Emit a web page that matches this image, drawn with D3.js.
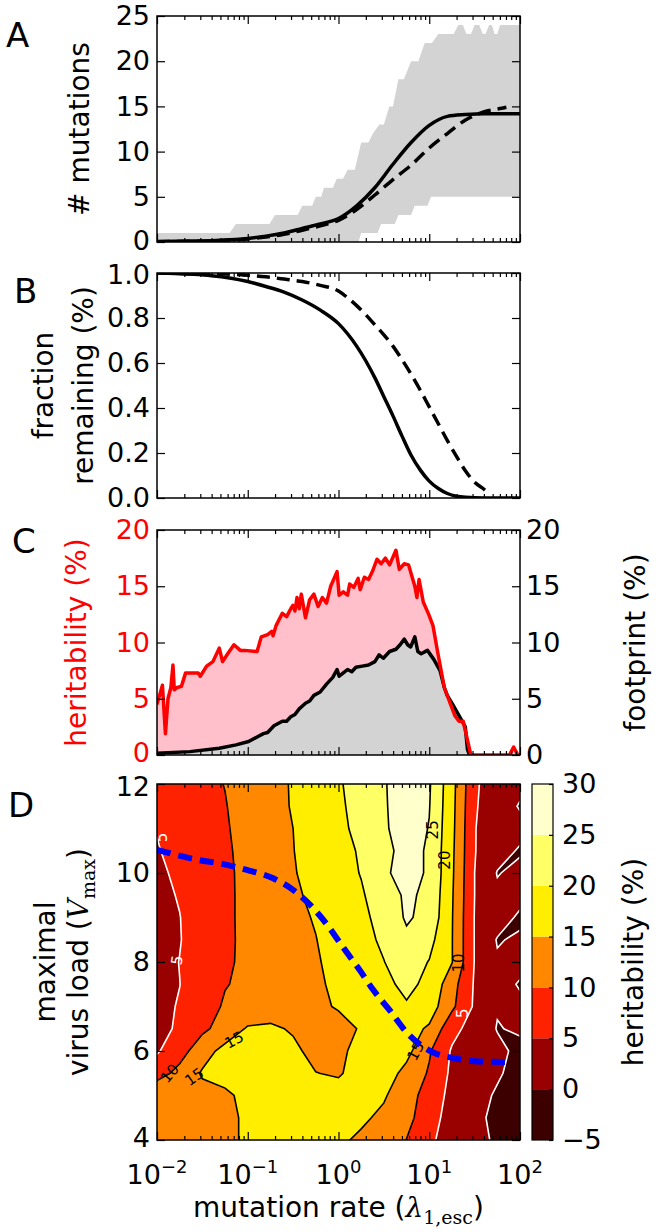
<!DOCTYPE html>
<html>
<head>
<meta charset="utf-8">
<script src="https://cdn.jsdelivr.net/npm/d3@7"></script>
<style>
html,body{margin:0;padding:0;background:#fff;}
svg{display:block;}
</style>
</head>
<body>
<svg id="chart" width="661" height="1232"></svg>
<script>
// ================= DATA =================
// Panel A: number of mutations (log10 of mutation rate on x)
const aLogX = [-2,-1.8,-1.6,-1.4,-1.2,-1.0,-0.8,-0.6,-0.4,-0.2,0,0.2,0.4,0.6,0.8,1.0,1.2,1.4,1.6,1.8,2.0];
const aMean = [0.05,0.07,0.1,0.15,0.25,0.4,0.65,1.0,1.5,2.0,2.6,4.0,6.0,8.6,11.0,12.9,13.9,14.1,14.2,14.2,14.2];
const aTheoryLogX = [-2,-1.8,-1.6,-1.4,-1.2,-1.0,-0.8,-0.6,-0.4,-0.2,0,0.2,0.4,0.6,0.8,1.0,1.2,1.4,1.6,1.8,1.85];
const aTheory = [0.03,0.05,0.08,0.12,0.2,0.33,0.55,0.85,1.3,1.8,2.4,3.6,5.2,6.9,8.5,10.4,12.0,13.5,14.4,14.8,14.9];
const aUpLogX = [-2,-1.2,-1.13,-0.76,-0.7,-0.45,-0.4,-0.29,-0.25,-0.19,-0.16,-0.06,-0.02,0.05,0.1,0.18,0.25,0.33,0.38,0.45,0.5,0.56,0.6,0.66,0.72,0.8,0.88,0.95,1.03,1.1,1.27,1.32,1.37,1.41,1.46,1.5,1.55,1.59,1.62,1.66,1.69,1.72,1.75,1.78,2];
const aUp = [1,1,2,2,3,3,4,4,5,5,6,6,7,7,8,8,11,11,12,13,13,15,15,18,18,20,20,22,22,23,23,24,24,23,23,24,24,23,23,24,24,23,23,24,24];
const aLoLogX = [-2,0.22,0.25,0.43,0.47,0.62,0.66,0.8,0.84,0.98,1.02,2];
const aLo = [0,0,1,1,2,2,3,3,4,4,5,5];

// Panel B: fraction remaining
const bLogX = [-2,-1.8,-1.6,-1.4,-1.2,-1.0,-0.8,-0.6,-0.4,-0.2,0,0.1,0.2,0.3,0.4,0.5,0.6,0.7,0.8,0.9,1.0,1.1,1.2,1.3,1.4,1.6,1.8,2.0];
const bSim = [1.0,0.998,0.994,0.988,0.978,0.962,0.94,0.915,0.88,0.835,0.775,0.73,0.675,0.61,0.535,0.45,0.365,0.275,0.19,0.125,0.075,0.042,0.02,0.008,0.003,0,0,0];
const bTheoryLogX = [-2,-1.6,-1.2,-1.0,-0.8,-0.6,-0.4,-0.2,0,0.1,0.2,0.3,0.4,0.5,0.6,0.7,0.8,0.9,1.0,1.1,1.2,1.3,1.4,1.5,1.6,1.66];
const bTheory = [1.0,0.998,0.995,0.99,0.983,0.973,0.962,0.945,0.92,0.89,0.855,0.815,0.77,0.725,0.675,0.615,0.55,0.48,0.405,0.33,0.255,0.185,0.12,0.07,0.04,0.02];

// Panel C: heritability (red) and footprint (black)
const cRedLogX = [-2.000,-1.940,-1.907,-1.879,-1.847,-1.824,-1.810,-1.778,-1.731,-1.685,-1.546,-1.523,-1.453,-1.384,-1.314,-1.277,-1.221,-1.152,-1.082,-1.036,-0.897,-0.851,-0.781,-0.735,-0.721,-0.688,-0.619,-0.572,-0.526,-0.503,-0.480,-0.457,-0.433,-0.410,-0.364,-0.318,-0.271,-0.225,-0.178,-0.132,-0.086,-0.016,0.007,0.053,0.100,0.123,0.169,0.216,0.239,0.285,0.331,0.378,0.424,0.470,0.517,0.563,0.633,0.670,0.725,0.772,0.841,0.864,0.888,0.934,0.994,1.041,1.096,1.166,1.212,1.235,1.282,1.328,1.374,1.458,1.884,1.930,1.977,2.000];
const cRed = [4.5,6.2,1.9,5.0,6.0,8.0,5.8,6.0,6.1,7.3,7.3,7.0,7.9,8.3,9.5,8.3,9.0,9.8,9.3,9.3,9.2,10.5,10.7,11.0,10.6,11.5,12.6,12.3,13.0,13.3,12.8,14.0,13.0,14.3,12.2,13.8,14.3,13.2,14.0,13.5,15.0,16.3,14.2,14.5,14.2,15.2,14.9,15.7,14.7,15.8,15.6,16.4,17.4,17.0,17.5,16.9,18.2,16.5,17.0,16.9,15.0,14.0,15.6,13.6,12.5,11.5,9.0,6.0,5.0,4.5,3.5,3.0,3.0,0.0,0.0,0.7,0.0,0.0];
const cBlackLogX = [-2,-1.638,-1.314,-1.129,-0.990,-0.897,-0.827,-0.781,-0.711,-0.619,-0.572,-0.526,-0.480,-0.433,-0.364,-0.318,-0.271,-0.202,-0.132,-0.063,-0.016,0.007,0.053,0.100,0.146,0.192,0.262,0.331,0.401,0.447,0.494,0.563,0.633,0.679,0.725,0.762,0.795,0.841,0.874,0.911,0.980,1.050,1.119,1.166,1.198,1.258,1.328,1.397,1.421,1.444];
const cBlack = [0.15,0.3,0.6,0.9,1.2,1.6,1.9,2.0,2.6,3.0,3.0,3.4,3.6,4.1,4.6,4.8,5.3,5.6,6.3,6.9,7.6,7.0,7.3,7.6,7.4,7.8,7.9,8.0,8.3,8.9,8.6,9.2,9.4,9.8,10.3,9.8,9.6,10.5,9.2,9.0,9.3,8.5,7.5,6.0,5.3,4.5,3.5,2.5,0.5,0.0];

// Panel D: heritability grid (rows: V_max from 12 down to 4; columns: log10 rate -2..2)
const dLogX = [-2,-1.75,-1.5,-1.25,-1,-0.75,-0.5,-0.25,0,0.25,0.5,0.75,1,1.25,1.5,1.75,2];
const dV = [12,11.5,11,10.5,10,9.5,9,8.5,8,7.5,7,6.5,6,5.5,5,4.5,4];
const heritRows = [
 [7,8,9,10.1,11.5,13.5,15.4,17,19.5,22,24.7,27,25.5,16.7,5.8,2,1],
 [6,7.5,8.7,9.8,11.8,13.6,15.3,17,19.3,21.5,24.5,27.5,25.2,16.5,5.5,2,-0.3],
 [5.2,7.2,8.6,9.5,11.8,13.5,15.0,17,19.0,21.2,24.3,27.5,24.8,16.3,5.2,2,1.2],
 [4.7,6.5,8.2,9.2,11.6,13.3,14.9,16.8,18.5,20.5,23.8,26.5,24.5,16,5.2,1.5,-0.4],
 [4.2,5.8,7.8,9.0,11.4,13.1,14.7,16.5,18.2,20.2,24.5,26.2,24.6,15.8,5.0,-0.2,1.0],
 [3.8,5.3,7.6,9.0,11.3,13.0,14.4,15.8,17.8,19.5,22.5,25.8,24.0,15.5,5.0,0.8,1.5],
 [3.5,4.9,7.5,9.0,11.3,12.8,14.0,15.3,17.3,19.0,21.5,25.6,23.5,15.3,4.8,2.2,-0.8],
 [3.3,4.8,7.4,9.0,11.2,12.7,13.8,14.9,16.8,18.5,20.8,24.0,21.5,15.2,4.8,-0.3,0.6],
 [3.2,5.1,7.4,9.2,11.1,12.6,13.6,14.6,16.3,18.0,19.9,22.5,19.8,15.2,4.8,0.5,1.5],
 [3.5,4.95,7.6,9.8,10.8,12.3,13.3,14.4,15.8,17.5,19.0,21.0,19.0,12.0,4.5,1.8,-0.4],
 [3.8,5.3,8.0,10.5,11.5,12.5,13.4,14.3,15.3,16.8,18.2,19.6,17.5,11.0,4.3,0.3,1.0],
 [4.0,5.5,9.0,12.0,15.5,15.8,14.5,13.5,13.8,15.3,16.5,17.0,14.3,6.5,3.0,-0.2,0.5],
 [4.5,8.0,13.0,16.5,17.0,17.0,16.0,13.5,14.0,16.5,17.5,16.5,10.5,4.5,2.5,1.0,-1.0],
 [8.0,11.5,15.5,17.0,17.5,17.5,17.2,15.1,14.5,17.0,17.5,13.5,9.5,4.0,2.0,0.5,-1.5],
 [14.0,13.5,13.5,14.0,16.5,17.5,17.8,17.5,17.0,16.5,15.5,12.0,8.0,3.5,1.5,-0.5,-1.5],
 [13.0,12.5,12.5,13.5,16.0,17.0,17.2,17.0,16.5,15.8,14.0,11.5,7.0,3.0,1.0,-1.0,-0.5],
 [12.5,12.5,12.5,13.8,15.8,16.5,16.5,16.2,15.8,14.2,12.5,9.9,6.0,2.5,1.0,-0.5,-1.0]
];
const dLevels = [-5,0,5,10,15,20,25,30];
const dColors = ["#3c0000","#990000","#ff2200","#ff8800","#ffee00","#ffff66","#ffffcc"];
const blueLogX = [-2,-1.56,-1.27,-1.01,-0.72,-0.5,-0.31,-0.13,0.05,0.24,0.38,0.57,0.75,0.9,1.05,1.27,1.5,1.86];
const blueV = [10.52,10.3,10.2,10.07,9.88,9.62,9.28,8.85,8.33,7.8,7.38,6.9,6.42,6.14,5.96,5.84,5.77,5.75];
const dLabels = [
 {lx:1.04,v:10.97,t:"25",r:-90,c:"#000"},
 {lx:1.17,v:10.29,t:"20",r:-90,c:"#000"},
 {lx:1.32,v:7.98,t:"10",r:-90,c:"#000"},
 {lx:1.37,v:6.85,t:"5",r:-90,c:"#fff"},
 {lx:0.85,v:6.0,t:"15",r:-62,c:"#000"},
 {lx:-1.15,v:6.25,t:"15",r:-28,c:"#000"},
 {lx:-1.59,v:5.42,t:"15",r:-35,c:"#000"},
 {lx:-1.86,v:5.5,t:"10",r:-50,c:"#000"},
 {lx:-1.95,v:10.8,t:"5",r:-90,c:"#fff"},
 {lx:-1.78,v:8.04,t:"5",r:-80,c:"#fff"}
];
const xDecades = [-2,-1,0,1,2];

// ================= DRAW =================
const svg = d3.select("#chart");
const defs = svg.append("defs");
const FONT = "DejaVu Sans, Verdana, sans-serif";
const SERIF = "DejaVu Serif, serif";
const FS = 27;
const X0 = 157, X1 = 520;
const x = d3.scaleLog().domain([1e-2,1e2]).range([X0,X1]);
const lx = v => x(Math.pow(10, v));

function clip(id,y0,y1){
  defs.append("clipPath").attr("id",id).append("rect")
    .attr("x",X0).attr("y",y0).attr("width",X1-X0).attr("height",y1-y0);
}
function frame(y0,y1){
  svg.append("rect").attr("x",X0).attr("y",y0).attr("width",X1-X0).attr("height",y1-y0)
    .attr("fill","none").attr("stroke","#000").attr("stroke-width",1.5);
}
const majors = xDecades.map(d=>Math.pow(10,d));
const minors = [];
for (let k=-2;k<2;k++) for (let m=2;m<10;m++) minors.push(m*Math.pow(10,k));
function xTicks(y0,y1){
  const g = svg.append("g");
  g.append("g").attr("transform",`translate(0,${y1})`).call(d3.axisBottom(x).tickValues(majors).tickSize(-8).tickFormat(""));
  g.append("g").attr("transform",`translate(0,${y1})`).call(d3.axisBottom(x).tickValues(minors).tickSize(-4).tickFormat(""));
  g.append("g").attr("transform",`translate(0,${y0})`).call(d3.axisTop(x).tickValues(majors).tickSize(-8).tickFormat(""));
  g.append("g").attr("transform",`translate(0,${y0})`).call(d3.axisTop(x).tickValues(minors).tickSize(-4).tickFormat(""));
  g.selectAll(".domain").remove();
  g.selectAll("line").attr("stroke","#000").attr("stroke-width",1.2);
}
function yAxes(y, ticks, fmt, leftColor, rightLabels){
  const gl = svg.append("g").attr("transform",`translate(${X0},0)`)
    .call(d3.axisLeft(y).tickValues(ticks).tickSize(-8).tickPadding(7).tickFormat(fmt));
  const gr = svg.append("g").attr("transform",`translate(${X1},0)`)
    .call(d3.axisRight(y).tickValues(ticks).tickSize(-8).tickPadding(6).tickFormat(rightLabels ? fmt : ""));
  [gl,gr].forEach(g=>{
    g.select(".domain").remove();
    g.attr("font-size",FS).attr("font-family",FONT);
    g.selectAll("line").attr("stroke","#000").attr("stroke-width",1.2);
  });
  gl.selectAll("text").attr("fill",leftColor||"#000");
  gr.selectAll("text").attr("fill","#000");
  return {gl, gr};
}
function vlabel(xp, yc, color){
  return svg.append("text").attr("transform",`translate(${xp},${yc}) rotate(-90)`)
    .attr("text-anchor","middle").attr("font-size",28).attr("font-family",FONT).attr("fill",color||"#000");
}
function letter(t,xp,yp){
  svg.append("text").attr("x",xp).attr("y",yp).attr("font-size",34).attr("font-family",FONT).text(t);
}

// ---------- Panel A ----------
const yA = d3.scaleLinear().domain([0,25]).range([242,16]);
clip("clipA",16,242);
const gA = svg.append("g").attr("clip-path","url(#clipA)");
const bandPts = aUpLogX.map((l,i)=>[lx(l), yA(aUp[i])])
  .concat(aLoLogX.map((l,i)=>[lx(l), yA(aLo[i])]).reverse());
gA.append("path").attr("d", d3.line()(bandPts)+"Z").attr("fill","#d3d3d3");
const lineA = d3.line().x(d=>lx(d[0])).y(d=>yA(d[1])).curve(d3.curveMonotoneX);
gA.append("path").attr("d", lineA(d3.zip(aLogX,aMean))).attr("fill","none").attr("stroke","#000").attr("stroke-width",3.5);
gA.append("path").attr("d", lineA(d3.zip(aTheoryLogX,aTheory))).attr("fill","none").attr("stroke","#000").attr("stroke-width",3.5).attr("stroke-dasharray","13,7");
frame(16,242); xTicks(16,242);
const axA = yAxes(yA,[0,5,10,15,20,25],d3.format("d"));
axA.gl.selectAll(".tick text").filter(d=>d===0).attr("dy","0.26em");
vlabel(89,129).text("# mutations");
letter("A",6,47);

// ---------- Panel B ----------
const yB = d3.scaleLinear().domain([0,1]).range([498,273]);
clip("clipB",273,498);
const gB = svg.append("g").attr("clip-path","url(#clipB)");
const lineB = d3.line().x(d=>lx(d[0])).y(d=>yB(d[1])).curve(d3.curveMonotoneX);
gB.append("path").attr("d", lineB(d3.zip(bLogX,bSim))).attr("fill","none").attr("stroke","#000").attr("stroke-width",3.5);
gB.append("path").attr("d", lineB(d3.zip(bTheoryLogX,bTheory))).attr("fill","none").attr("stroke","#000").attr("stroke-width",3.5).attr("stroke-dasharray","13,7");
frame(273,498); xTicks(273,498);
const axB = yAxes(yB,[0,0.2,0.4,0.6,0.8,1.0],d3.format(".1f"));
axB.gl.selectAll(".tick text").filter(d=>d===1).attr("dy","0.38em");
vlabel(53,385.5).text("fraction");
vlabel(93,385.5).text("remaining (%)");
letter("B",14,303);

// ---------- Panel C ----------
const yC = d3.scaleLinear().domain([0,20]).range([755,530]);
clip("clipC",530,755);
const gC = svg.append("g").attr("clip-path","url(#clipC)");
const areaC = d3.area().x(d=>lx(d[0])).y0(yC(0)).y1(d=>yC(d[1]));
const lineC = d3.line().x(d=>lx(d[0])).y(d=>yC(d[1]));
const redData = d3.zip(cRedLogX,cRed), blackData = d3.zip(cBlackLogX,cBlack);
gC.append("path").attr("d",areaC(redData)).attr("fill","#ffc0cb");
gC.append("path").attr("d",areaC(blackData)).attr("fill","#d3d3d3");
gC.append("path").attr("d",lineC(blackData)).attr("fill","none").attr("stroke","#000").attr("stroke-width",3.5).attr("stroke-linejoin","round");
gC.append("path").attr("d",lineC(redData)).attr("fill","none").attr("stroke","#ff0000").attr("stroke-width",3.5).attr("stroke-linejoin","round");
frame(530,755); xTicks(530,755);
const axC = yAxes(yC,[0,5,10,15,20],d3.format("d"),"#ff0000",true);
axC.gl.selectAll(".tick text").filter(d=>d===0).attr("dy","0.24em");
vlabel(86,642.5,"#ff0000").text("heritability (%)");
vlabel(645,642.5).text("footprint (%)");
letter("C",12,553);

// ---------- Panel D ----------
const yD = d3.scaleLinear().domain([4,12]).range([1140,784]);
clip("clipD",784,1140);
const gD = svg.append("g").attr("clip-path","url(#clipD)");
const nx = dLogX.length, ny = dV.length;
const gx = d3.scaleLinear().domain([0.5, nx-0.5]).range([dLogX[0], dLogX[nx-1]]);
const gy = d3.scaleLinear().domain([0.5, ny-0.5]).range([dV[0], dV[ny-1]]);
const proj = d3.geoTransform({point(px,py){ this.stream.point(lx(gx(px)), yD(gy(py))); }});
const gpath = d3.geoPath(proj);
const conts = d3.contours().size([nx,ny]).thresholds(dLevels)(heritRows.flat());
conts.forEach((c,i)=>{
  if (i < dColors.length) gD.append("path").attr("d",gpath(c)).attr("fill",dColors[i]).attr("stroke",dColors[i]).attr("stroke-width",0.5);
});
conts.forEach(c=>{
  if (c.value < 0 || c.value >= 30) return;
  gD.append("path").attr("d",gpath(c)).attr("fill","none")
    .attr("stroke", c.value <= 5 ? "#ffffff" : "#000000").attr("stroke-width",1.6);
});
gD.selectAll("text.cl").data(dLabels).join("text").attr("class","cl")
  .attr("transform",d=>`translate(${lx(d.lx)},${yD(d.v)}) rotate(${d.r})`)
  .attr("text-anchor","middle").attr("dy","0.35em")
  .attr("font-size",15).attr("font-family",FONT).attr("fill",d=>d.c).text(d=>d.t);
const lineD = d3.line().x(d=>lx(d[0])).y(d=>yD(d[1])).curve(d3.curveMonotoneX);
gD.append("path").attr("d",lineD(d3.zip(blueLogX,blueV))).attr("fill","none")
  .attr("stroke","#0000ff").attr("stroke-width",6).attr("stroke-dasharray","14,8");
frame(784,1140); xTicks(784,1140);
const axD = yAxes(yD,[4,6,8,10,12],d3.format("d"));
axD.gl.selectAll(".tick text").filter(d=>d===12).attr("dy","0.42em");
axD.gl.selectAll(".tick text").filter(d=>d===4).attr("dy","0.24em");
const vl = vlabel(88,962);
vl.append("tspan").text("virus load (");
vl.append("tspan").attr("font-family",SERIF).attr("font-style","italic").text("V");
vl.append("tspan").attr("font-family",SERIF).attr("font-size",19).attr("dy",7).text("max");
vl.append("tspan").attr("dy",-7).text(")");
vlabel(55,962).text("maximal");
letter("D",8,817);

// x tick labels (decades)
const xl = svg.selectAll("text.xl").data(xDecades).join("text").attr("class","xl")
  .attr("x",d=>x(Math.pow(10,d))).attr("y",1184).attr("text-anchor","middle")
  .attr("font-size",FS).attr("font-family",FONT);
xl.append("tspan").text("10");
xl.append("tspan").attr("font-size",18).attr("dy",-11).text(d=>d<0?"\u2212"+(-d):String(d));
const xt = svg.append("text").attr("x",(X0+X1)/2).attr("y",1217).attr("text-anchor","middle")
  .attr("font-size",28).attr("font-family",FONT);
xt.append("tspan").text("mutation rate (");
xt.append("tspan").attr("font-family",SERIF).attr("font-style","italic").text("\u03bb");
xt.append("tspan").attr("font-family",SERIF).attr("font-size",19).attr("dy",7).text("1,esc");
xt.append("tspan").attr("dy",-7).text(")");

// ---------- Colorbar ----------
const CB0 = 532, CB1 = 553;
const cb = d3.scaleLinear().domain([-5,30]).range([1140,784]);
const bands = d3.pairs(dLevels);
svg.selectAll("rect.cb").data(bands).join("rect").attr("class","cb")
  .attr("x",CB0).attr("width",CB1-CB0)
  .attr("y",d=>cb(d[1])).attr("height",d=>cb(d[0])-cb(d[1]))
  .attr("fill",(d,i)=>dColors[i]);
svg.append("rect").attr("x",CB0).attr("y",784).attr("width",CB1-CB0).attr("height",356)
  .attr("fill","none").attr("stroke","#000").attr("stroke-width",1.2);
const gcb = svg.append("g").attr("transform",`translate(${CB1},0)`)
  .call(d3.axisRight(cb).tickValues(dLevels).tickSize(-4).tickPadding(9)
    .tickFormat(d=>d<0?"\u2212"+(-d):String(d)));
gcb.select(".domain").remove();
gcb.attr("font-size",FS).attr("font-family",FONT);
gcb.selectAll("line").attr("stroke","#000").attr("stroke-width",1.2);
gcb.selectAll("text").attr("fill","#000");
vlabel(643,962).text("heritability (%)");
</script>
</body>
</html>
